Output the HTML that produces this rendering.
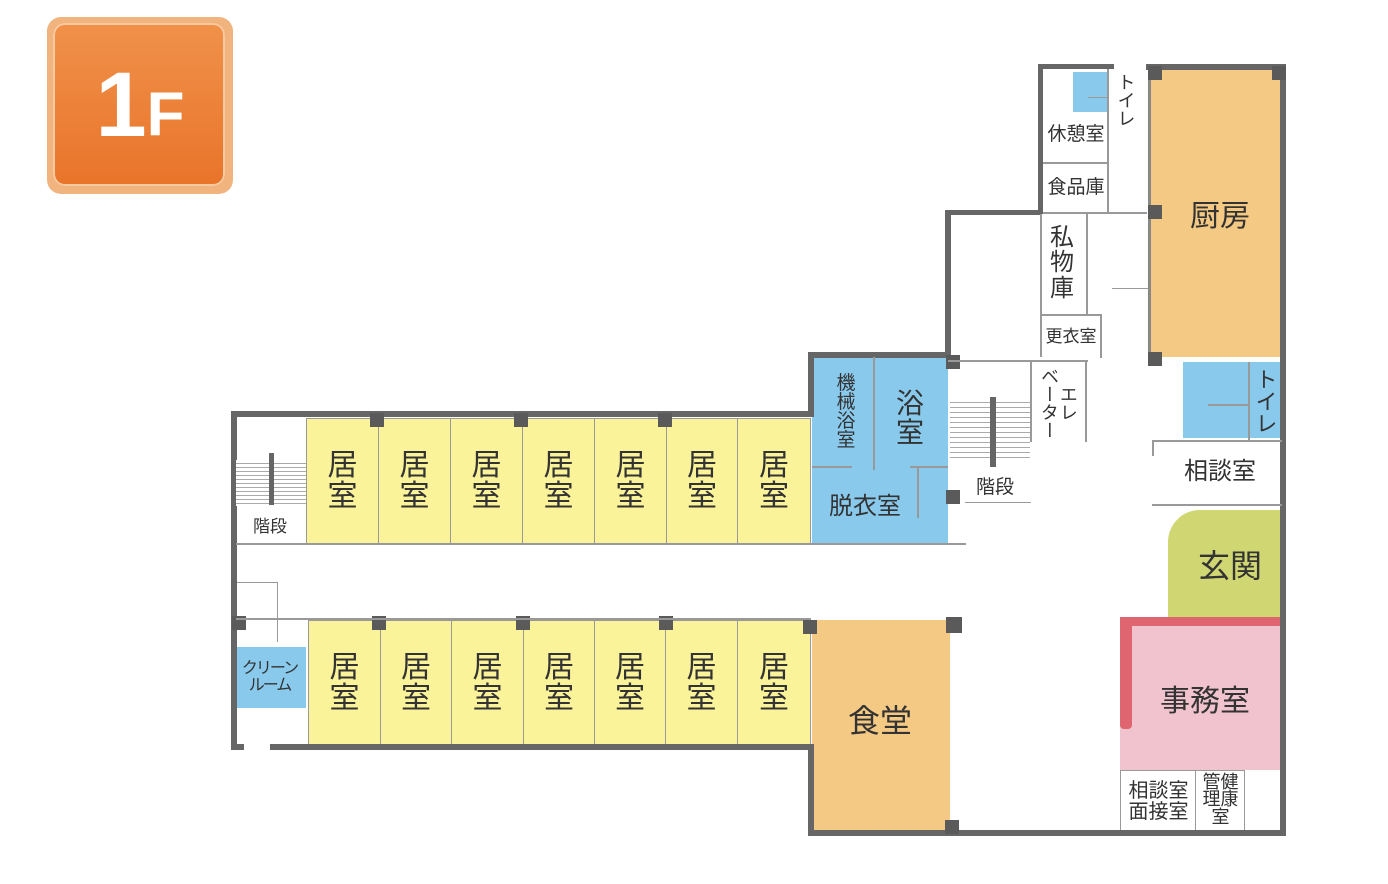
<!DOCTYPE html>
<html><head><meta charset="utf-8"><style>
body{margin:0;width:1388px;height:884px;background:#fff;position:relative;overflow:hidden;font-family:"Liberation Sans","Noto Sans CJK JP",sans-serif;color:#333}
div{position:absolute;box-sizing:border-box}
.w{background:#666}
.y{background:#fbf39a;border:1px solid #999}
.t{display:flex;align-items:center;justify-content:center;text-align:center;line-height:1.05}
.p{background:#5a5a5a;width:14px;height:14px}
.l{background:#999}
</style></head><body>
<!-- badge -->
<div style="left:47px;top:17px;width:186px;height:177px;border-radius:14px;background:#f1b47e"></div>
<div style="left:53px;top:23px;width:172px;height:163px;border-radius:12px;background:linear-gradient(#f0914a,#e9742a);box-shadow:0 0 0 2px #f7c9a0 inset"></div>
<div class="t" style="left:60px;top:40px;width:160px;height:130px;color:#fff;font-weight:bold;font-size:92px;"><span>1</span><span style="font-size:62px;margin-top:20px">F</span></div>

<!-- colored rooms -->
<div style="left:236px;top:416px;width:574px;height:128px;background:#fff"></div>
<div style="left:812px;top:357px;width:136px;height:186px;background:#88c9ec"></div>
<div style="left:1150px;top:70px;width:130px;height:287px;background:#f4c983"></div>
<div style="left:1183px;top:362px;width:97px;height:76px;background:#88c9ec"></div>
<div style="left:1168px;top:510px;width:117px;height:107px;background:#d0d772;border-top-left-radius:32px"></div>
<div style="left:1120px;top:617px;width:162px;height:153px;background:#f1c3cf"></div>
<div style="left:1120px;top:617px;width:162px;height:9px;background:#df6570"></div>
<div style="left:1120px;top:617px;width:12px;height:112px;background:#df6570;border-radius:0 0 4px 4px"></div>
<div style="left:812px;top:620px;width:138px;height:210px;background:#f4c983"></div>
<div style="left:233px;top:647px;width:73px;height:61px;background:#88c9ec"></div>
<div style="left:1073px;top:72px;width:34px;height:40px;background:#88c9ec"></div>

<!-- yellow rooms top -->
<div class="y t" style="left:306px;top:418px;width:73px;height:126px;font-size:30px">居<br>室</div>
<div class="y t" style="left:378px;top:418px;width:73px;height:126px;font-size:30px">居<br>室</div>
<div class="y t" style="left:450px;top:418px;width:73px;height:126px;font-size:30px">居<br>室</div>
<div class="y t" style="left:522px;top:418px;width:73px;height:126px;font-size:30px">居<br>室</div>
<div class="y t" style="left:594px;top:418px;width:73px;height:126px;font-size:30px">居<br>室</div>
<div class="y t" style="left:666px;top:418px;width:72px;height:126px;font-size:30px">居<br>室</div>
<div class="y t" style="left:737px;top:418px;width:74px;height:126px;font-size:30px">居<br>室</div>
<!-- bottom -->
<div class="y t" style="left:308px;top:620px;width:73px;height:126px;font-size:30px">居<br>室</div>
<div class="y t" style="left:380px;top:620px;width:72px;height:126px;font-size:30px">居<br>室</div>
<div class="y t" style="left:451px;top:620px;width:73px;height:126px;font-size:30px">居<br>室</div>
<div class="y t" style="left:523px;top:620px;width:72px;height:126px;font-size:30px">居<br>室</div>
<div class="y t" style="left:594px;top:620px;width:72px;height:126px;font-size:30px">居<br>室</div>
<div class="y t" style="left:665px;top:620px;width:73px;height:126px;font-size:30px">居<br>室</div>
<div class="y t" style="left:737px;top:620px;width:74px;height:126px;font-size:30px">居<br>室</div>

<!-- walls -->
<div class="w" style="left:231px;top:411px;width:581px;height:6px"></div>
<div class="w" style="left:231px;top:411px;width:6px;height:338px"></div>
<div class="w" style="left:231px;top:744px;width:13px;height:6px"></div>
<div class="w" style="left:270px;top:744px;width:542px;height:6px"></div>
<div class="w" style="left:808px;top:352px;width:6px;height:65px"></div>
<div class="w" style="left:808px;top:352px;width:142px;height:6px"></div>
<div class="w" style="left:945px;top:210px;width:6px;height:148px"></div>
<div class="w" style="left:945px;top:210px;width:97px;height:5px"></div>
<div class="w" style="left:1038px;top:64px;width:5px;height:150px"></div>
<div class="w" style="left:1038px;top:64px;width:76px;height:5px"></div>
<div class="w" style="left:1146px;top:64px;width:140px;height:6px"></div>
<div class="w" style="left:1280px;top:64px;width:6px;height:772px"></div>
<div class="w" style="left:808px;top:744px;width:6px;height:92px"></div>
<div class="w" style="left:808px;top:830px;width:478px;height:6px"></div>
<div style="left:1148px;top:70px;width:3px;height:290px;background:#888"></div>
<!-- pillars -->
<div class="p" style="left:1148px;top:66px"></div>
<div class="p" style="left:1272px;top:66px"></div>
<div class="p" style="left:370px;top:413px;height:14px"></div>
<div class="p" style="left:514px;top:413px"></div>
<div class="p" style="left:658px;top:413px"></div>
<div class="p" style="left:372px;top:616px"></div>
<div class="p" style="left:516px;top:616px"></div>
<div class="p" style="left:659px;top:616px"></div>
<div class="p" style="left:803px;top:620px"></div>
<div class="p" style="left:946px;top:617px;width:16px;height:16px"></div>
<div class="p" style="left:946px;top:490px"></div>
<div class="p" style="left:946px;top:355px"></div>
<div class="p" style="left:1148px;top:352px"></div>
<div class="p" style="left:1148px;top:205px"></div>
<div class="p" style="left:945px;top:820px"></div>
<div class="p" style="left:232px;top:616px"></div>

<!-- corridor lines -->
<div class="l" style="left:236px;top:543px;width:730px;height:2px"></div>
<div class="l" style="left:236px;top:618px;width:575px;height:2px"></div>
<!-- left stairs -->
<div style="left:236px;top:460px;width:70px;height:46px;background:repeating-linear-gradient(#fff 0 3px,#aaa 3px 4px);"></div>
<div class="w" style="left:269px;top:453px;width:5px;height:52px"></div>
<div class="t" style="left:240px;top:514px;width:60px;height:26px;font-size:17px">階段</div>
<div class="l" style="left:237px;top:582px;width:40px;height:1px"></div>
<div class="l" style="left:277px;top:582px;width:1px;height:60px"></div>
<div class="t" style="left:233px;top:650px;width:73px;height:55px;font-size:16px;letter-spacing:-2px">クリーン<br>ルーム</div>

<!-- bath block -->
<div class="l" style="left:873px;top:357px;width:2px;height:113px"></div>
<div class="l" style="left:812px;top:466px;width:40px;height:2px"></div>
<div class="l" style="left:910px;top:466px;width:38px;height:2px"></div>
<div class="l" style="left:917px;top:466px;width:2px;height:52px"></div>
<div class="t" style="left:828px;top:362px;width:36px;height:100px;font-size:19px;line-height:1">機<br>械<br>浴<br>室</div>
<div class="t" style="left:885px;top:385px;width:50px;height:66px;font-size:28px">浴<br>室</div>
<div class="t" style="left:815px;top:490px;width:100px;height:34px;font-size:24px">脱衣室</div>

<!-- middle stairs -->
<div class="l" style="left:948px;top:360px;width:140px;height:2px"></div>
<div style="left:950px;top:398px;width:80px;height:60px;background:repeating-linear-gradient(#fff 0 4px,#aaa 4px 5px);"></div>
<div class="w" style="left:990px;top:397px;width:6px;height:70px"></div>
<div class="l" style="left:1030px;top:362px;width:2px;height:80px"></div>
<div class="l" style="left:1085px;top:362px;width:2px;height:80px"></div>
<div class="t" style="left:965px;top:474px;width:60px;height:28px;font-size:19px">階段</div>
<div class="l" style="left:965px;top:502px;width:66px;height:1px"></div>
<div class="t" style="left:1036px;top:365px;width:44px;height:76px;font-size:18px;writing-mode:vertical-rl">エレ<br>ベーター</div>

<!-- top rooms -->
<div class="l" style="left:1107px;top:69px;width:2px;height:145px"></div>
<div class="l" style="left:1043px;top:162px;width:64px;height:2px"></div>
<div class="l" style="left:1043px;top:212px;width:104px;height:2px"></div>
<div class="l" style="left:1086px;top:214px;width:2px;height:100px"></div>
<div class="l" style="left:1040px;top:314px;width:62px;height:2px"></div>
<div class="l" style="left:1040px;top:214px;width:2px;height:143px"></div>
<div class="l" style="left:1100px;top:314px;width:2px;height:44px"></div>
<div class="l" style="left:1112px;top:288px;width:36px;height:1px"></div>
<div class="l" style="left:1088px;top:97px;width:20px;height:1px"></div>
<div class="t" style="left:1110px;top:70px;width:30px;height:60px;font-size:18px;writing-mode:vertical-rl">トイレ</div>
<div class="t" style="left:1043px;top:120px;width:66px;height:30px;font-size:19px">休憩室</div>
<div class="t" style="left:1043px;top:173px;width:66px;height:30px;font-size:19px">食品庫</div>
<div class="t" style="left:1042px;top:218px;width:40px;height:90px;font-size:24px">私<br>物<br>庫</div>
<div class="t" style="left:1040px;top:322px;width:62px;height:30px;font-size:17px">更衣室</div>
<div class="t" style="left:1160px;top:195px;width:120px;height:44px;font-size:30px">厨房</div>

<!-- right side -->
<div class="l" style="left:1248px;top:362px;width:2px;height:78px"></div>
<div class="l" style="left:1208px;top:404px;width:40px;height:2px"></div>
<div class="t" style="left:1248px;top:365px;width:34px;height:72px;font-size:22px;writing-mode:vertical-rl">トイレ</div>
<div class="l" style="left:1152px;top:440px;width:130px;height:2px"></div>
<div class="l" style="left:1152px;top:440px;width:2px;height:16px"></div>
<div class="l" style="left:1152px;top:504px;width:130px;height:2px"></div>
<div class="t" style="left:1160px;top:455px;width:120px;height:34px;font-size:24px">相談室</div>
<div class="t" style="left:1180px;top:545px;width:100px;height:44px;font-size:32px">玄関</div>
<div class="t" style="left:1140px;top:680px;width:130px;height:44px;font-size:30px">事務室</div>
<div class="l" style="left:1120px;top:770px;width:125px;height:1px"></div>
<div class="l" style="left:1120px;top:770px;width:1px;height:60px"></div>
<div class="l" style="left:1195px;top:770px;width:1px;height:60px"></div>
<div class="l" style="left:1244px;top:770px;width:1px;height:60px"></div>
<div class="t" style="left:1122px;top:777px;width:73px;height:50px;font-size:20px">相談室<br>面接室</div>
<div class="t" style="left:1197px;top:772px;width:47px;height:56px;font-size:18px;line-height:0.95">管健<br>理康<br>室</div>
<div class="t" style="left:830px;top:700px;width:100px;height:44px;font-size:32px">食堂</div>
</body></html>
